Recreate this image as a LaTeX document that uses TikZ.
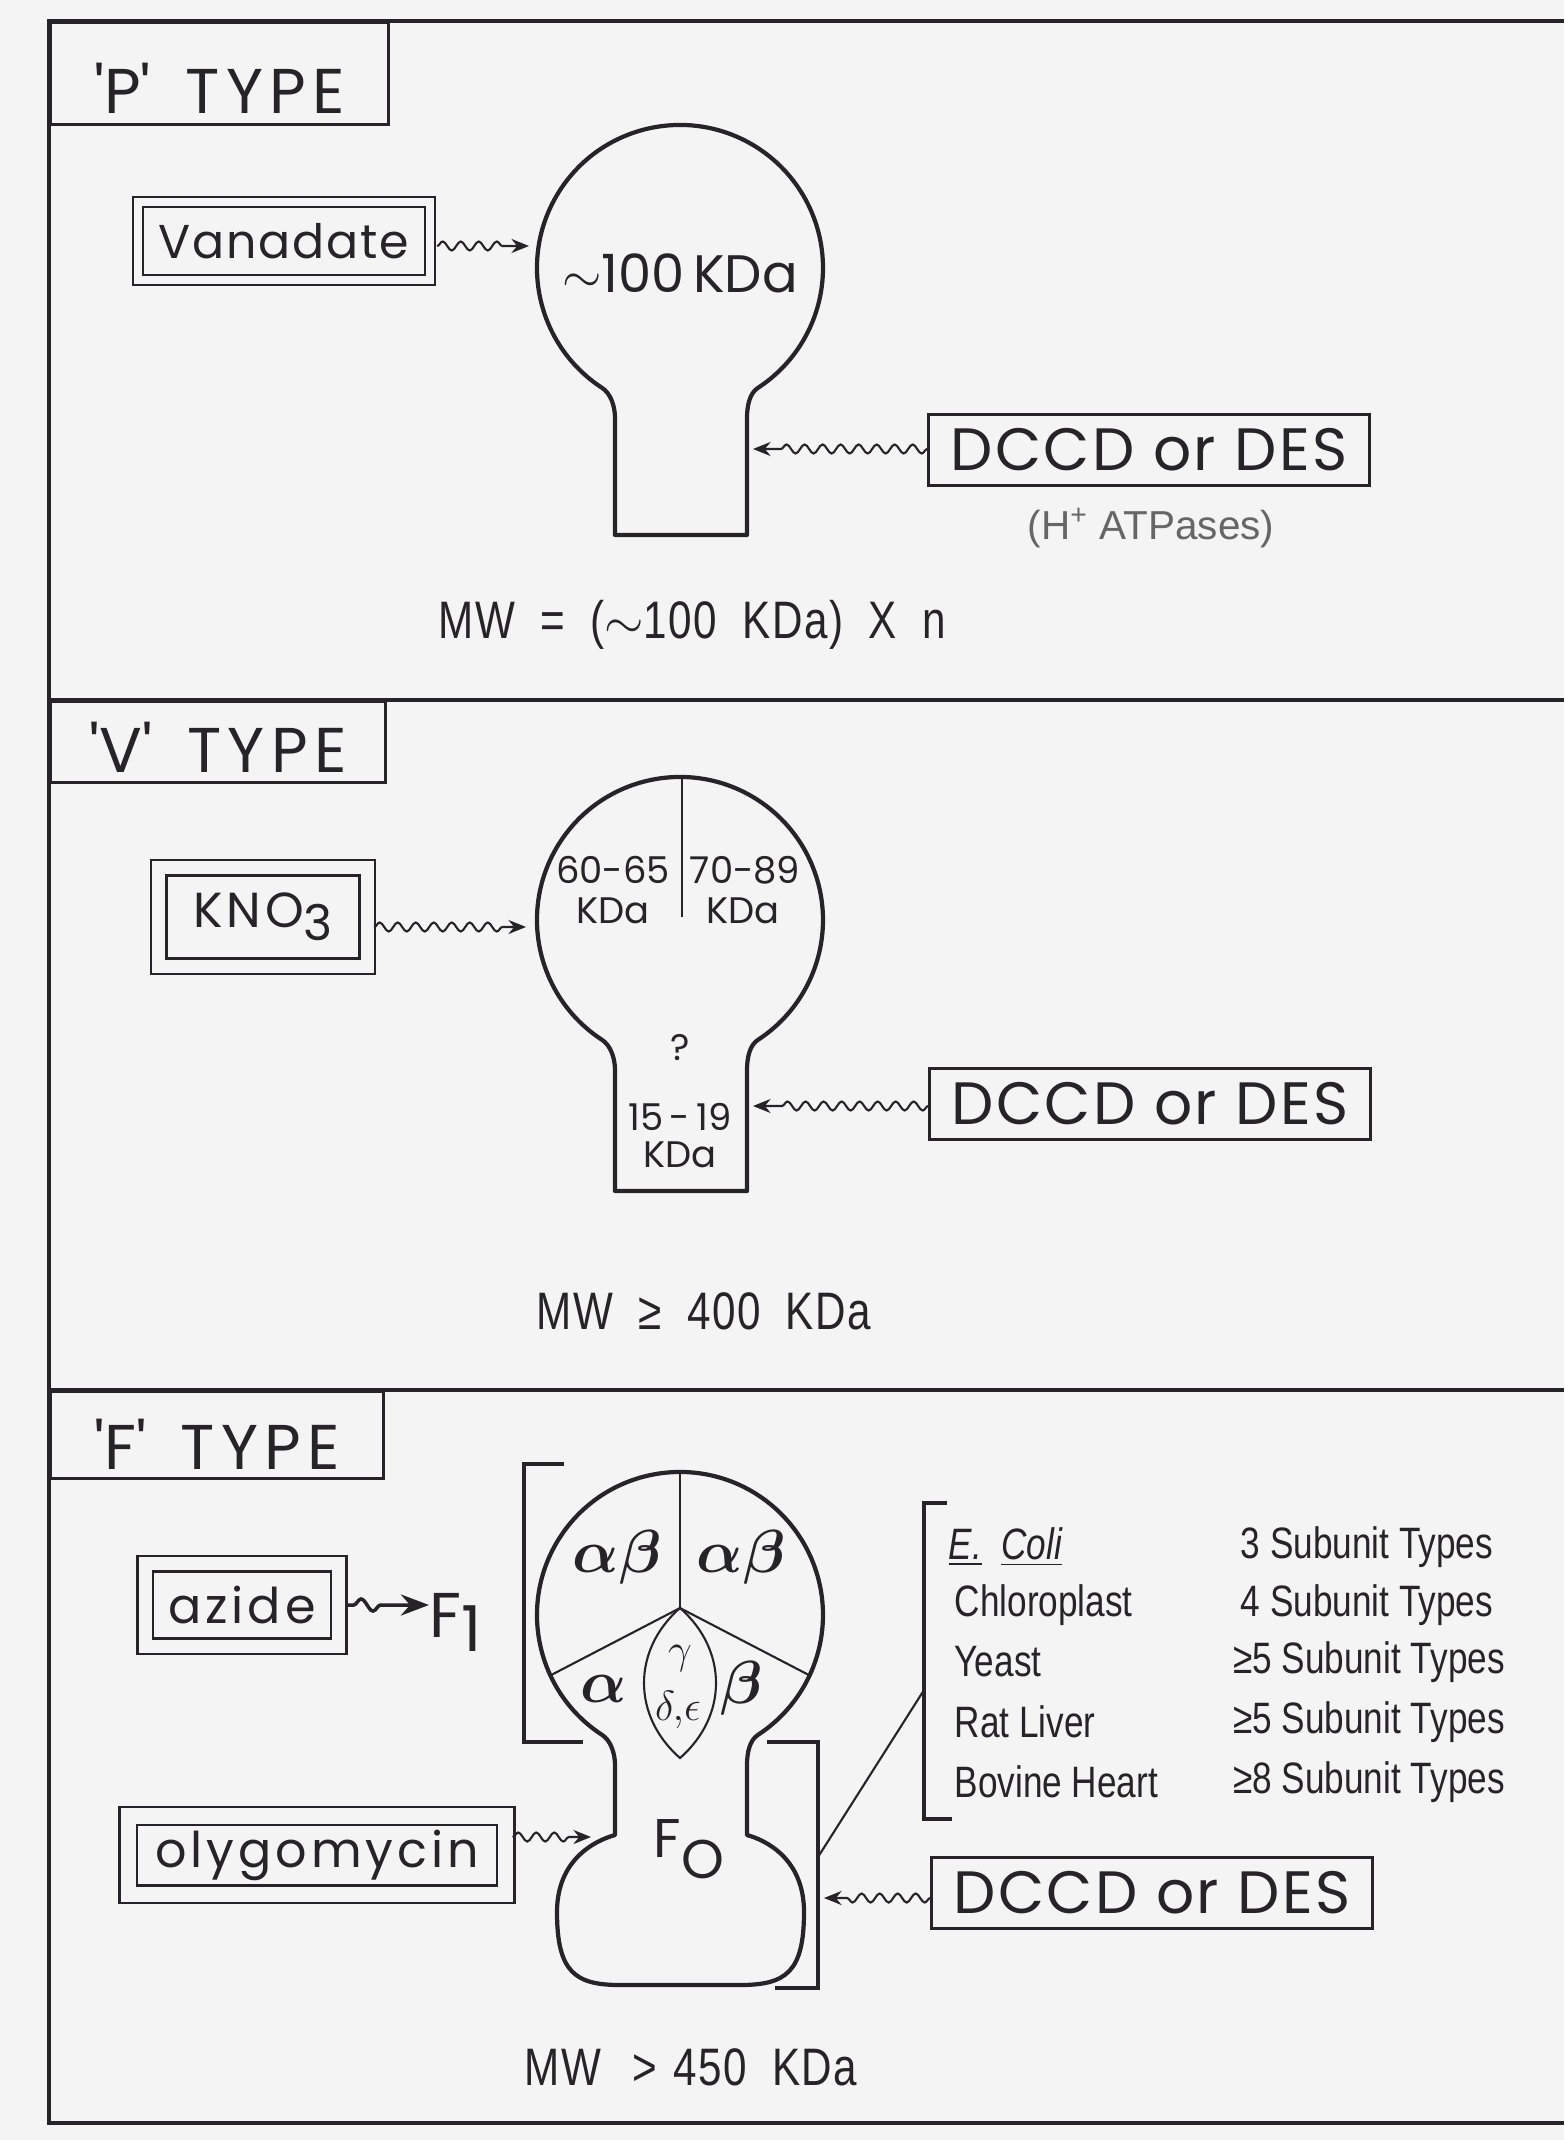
\documentclass[tikz,border=0pt]{standalone}
\usepackage{fontspec}
\setmainfont{Poppins}
\newfontfamily\typefont[LetterSpace=10,WordSpace=1.5]{Poppins}
\newfontfamily\narrowfont[FakeStretch=0.8]{Liberation Sans}
\newfontfamily\mwfont[FakeStretch=0.8,LetterSpace=3,WordSpace=1.9]{Liberation Sans}
\newfontfamily\helvfont{Liberation Sans}
\usetikzlibrary{positioning,decorations.pathmorphing,arrows.meta}
\definecolor{ink}{RGB}{38,36,40}
\definecolor{paper}{RGB}{244,244,245}

\begin{document}
\begin{tikzpicture}[
x=0.01cm,y=-0.01cm,
color=ink,
framing/.style={draw=ink,line width=0.9pt},
bulb/.style={draw=ink,line width=1.2pt,line join=round},
divider/.style={draw=ink,line width=0.6pt},
typebox/.style={draw=ink,line width=0.9pt,anchor=north west,inner ysep=0pt,font=\typefont\fontsize{18}{20}\selectfont},
dbox/.style={draw=ink,double=paper,line width=0.7pt,inner sep=0pt,outer sep=0.7mm,font=\fontsize{14}{16}\selectfont\addfontfeature{LetterSpace=8}},
sbox/.style={draw=ink,line width=0.9pt,minimum width=4.4cm,minimum height=0.71cm,inner sep=0pt,font=\fontsize{17}{19}\selectfont\addfontfeature{LetterSpace=4}},
wavy/.style={draw=ink,line width=0.6pt,-{Stealth[length=5pt,width=4pt]},decorate,decoration={snake,amplitude=0.45mm,segment length=1.8mm,post length=2.2mm}},
tildearrow/.style={draw=ink,line width=1pt,-{Stealth[length=8pt,width=6pt]},decorate,decoration={snake,amplitude=0.6mm,segment length=2.4mm,pre length=0.8mm,post length=4.5mm}},
mw/.style={inner sep=0pt,font=\mwfont\fontsize{15}{17}\selectfont},
kda/.style={inner sep=0pt,font=\fontsize{10.5}{12}\selectfont},
greek/.style={inner sep=0pt,font=\fontsize{18}{20}\selectfont\boldmath},
subunit/.style={inner sep=0pt,font=\narrowfont\fontsize{12.5}{14}\selectfont},
helv/.style={inner sep=0pt,text=gray!80!black,font=\helvfont\fontsize{11.5}{13}\selectfont}
]
\fill[paper] (0,0) rectangle (1564,2140);
\useasboundingbox (0,0) rectangle (1564,2140);

% frame
\draw[framing] (1564,21) -- (49,21) -- (49,2123) -- (1564,2123);
\draw[framing] (49,700) -- (1564,700);
\draw[framing] (49,1390) -- (1564,1390);

% P type
\node[typebox,text height=0.91cm,text depth=0.11cm,minimum width=3.38cm] (ptype) at (49,21) {\textquotesingle P\textquotesingle\ TYPE};
\node[dbox,double distance=0.75mm,minimum width=2.92cm,minimum height=0.78cm,font=\fontsize{13.5}{16}\selectfont\addfontfeature{LetterSpace=4}] (vanadate) at (284,241) {Vanadate};
\draw[bulb] (615,535) -- (615,418) .. controls (615,406) and (610.5,393.3) .. (602.1,387.9)
  arc[start angle=123,end angle=417,radius=143]
  .. controls (749.5,393.3) and (747,406) .. (747,418) -- (747,535) -- cycle;
\node[inner sep=0pt,font=\fontsize{15}{17}\selectfont] (pmass) at (680,273) {$\sim$100\,KDa};
\coordinate (phead) at (529,246);
\draw[wavy] (vanadate.east |- phead) -- (phead);
\node[sbox] (pdccd) at (1149,450) {DCCD or DES};
\coordinate (pstem) at (753,449);
\draw[wavy] (pdccd.west |- pstem) -- (pstem);
\node[helv] (hplus) at (1151,528) {(H\textsuperscript{+} ATPases)};
\node[mw] (pmw) at (692,625) {MW = ($\sim$100 KDa) X n};

% V type
\node[typebox,text height=0.71cm,text depth=0.10cm,minimum width=3.35cm] (vtype) at (49,700) {\textquotesingle V\textquotesingle\ TYPE};
\node[dbox,double distance=1.3mm,minimum width=2.08cm,minimum height=0.98cm] (kno) at (263,917) {KNO\raisebox{-0.5ex}{3}};
\draw[bulb] (615,1191) -- (615,1070) .. controls (615,1058) and (610.5,1045.3) .. (602.1,1039.9)
  arc[start angle=123,end angle=417,radius=143]
  .. controls (749.5,1045.3) and (747,1058) .. (747,1070) -- (747,1191) -- cycle;
\draw[divider] (682,777) -- (682,917);
\node[kda] (vleft) at (613,870) {60-65};
\node[kda] (vleftu) at (613,911) {KDa};
\node[kda] (vright) at (745,870) {70-89};
\node[kda] (vrightu) at (743,911) {KDa};
\node[kda] (vquery) at (680,1048) {?};
\node[kda] (vstemm) at (680,1117) {15\,-\,19};
\node[kda] (vstemu) at (680,1155) {KDa};
\coordinate (vhead) at (526,927);
\draw[wavy] (kno.east |- vhead) -- (vhead);
\node[sbox] (vdccd) at (1150,1104) {DCCD or DES};
\coordinate (vstem) at (753,1106);
\draw[wavy] (vdccd.west |- vstem) -- (vstem);
\node[mw] (vmw) at (704,1311) {MW ≥ 400 KDa};

% F type
\node[typebox,text height=0.78cm,text depth=0.09cm,minimum width=3.33cm] (ftype) at (49,1390) {\textquotesingle F\textquotesingle\ TYPE};
\node[dbox,double distance=1.3mm,minimum width=1.93cm,minimum height=0.82cm] (azide) at (242,1605) {azide};
\node[anchor=base west,inner sep=0pt,font=\fontsize{18}{20}\selectfont] (fone) at (429,1637) {F\raisebox{-4pt}{1}};
\draw[tildearrow] (azide.east) -- (azide.east -| fone.west);
\draw[bulb] (615,1835) -- (615,1765) .. controls (615,1753) and (610.5,1740.3) .. (602.1,1734.9)
  arc[start angle=123,end angle=417,radius=143]
  .. controls (749.5,1740.3) and (747,1753) .. (747,1765) -- (747,1835)
  .. controls (765,1840) and (804,1858) .. (804,1912)
  .. controls (804,1972) and (786,1985) .. (740,1985) -- (620,1985)
  .. controls (575,1985) and (557,1972) .. (557,1912)
  .. controls (557,1858) and (597,1840) .. (615,1835) -- cycle;
\coordinate (hub) at (680,1608);
\draw[divider] (680,1472) -- (hub);
\draw[divider] (hub) -- (550.4,1675.4);
\draw[divider] (hub) -- (809.6,1675.4);
\draw[divider] (hub) .. controls (632,1650) and (632,1716) .. (680,1758)
  .. controls (728,1716) and (728,1650) .. (hub);
\node[greek] (ableft) at (617,1557) {$\alpha\beta$};
\node[greek] (abright) at (741,1557) {$\alpha\beta$};
\node[greek] (alone) at (604,1689) {$\alpha$};
\node[greek] (blone) at (742,1688) {$\beta$};
\node[greek,font=\fontsize{12}{14}\selectfont] (gam) at (680,1658) {$\gamma$};
\node[greek,font=\fontsize{12}{14}\selectfont] (delt) at (678,1710) {$\delta,\!\epsilon$};
\node[anchor=base west,inner sep=0pt,font=\fontsize{15.5}{18}\selectfont] (fzerolbl) at (653,1857) {F\raisebox{-6pt}{O}};
\draw[framing] (564,1464) -- (524,1464) -- (524,1742) -- (583,1742);
\draw[framing] (767,1742) -- (818,1742) -- (818,1988) -- (775,1988);
\draw[framing] (947,1503) -- (924,1503) -- (924,1819) -- (952,1819);
\coordinate (fobrk) at (818,1857);
\coordinate (listbrk) at (924,1690);
\draw[divider] (fobrk) -- (listbrk);
\node[dbox,double distance=1.5mm,minimum width=3.77cm,minimum height=0.78cm] (oligo) at (317,1855) {olygomycin};
\coordinate (fzero) at (591,1837);
\draw[wavy] (oligo.east |- fzero) -- (fzero);
\node[sbox] (fdccd) at (1152,1893) {DCCD or DES};
\coordinate (fbrk) at (824,1898);
\draw[wavy] (fdccd.west |- fbrk) -- (fbrk);
\node[subunit,anchor=west] (ecoli) at (948,1547) {\itshape\underline{E.}\ \ \underline{Coli}};
\node[subunit] (ecolin) at (1367,1547) {3 Subunit Types};
\node[subunit,anchor=west] (chloro) at (954,1605) {Chloroplast};
\node[subunit] (chloron) at (1367,1605) {4 Subunit Types};
\node[subunit,anchor=west] (yeast) at (954,1662) {Yeast};
\node[subunit] (yeastn) at (1369,1662) {≥5 Subunit Types};
\node[subunit,anchor=west] (rat) at (954,1722) {Rat Liver};
\node[subunit] (ratn) at (1369,1722) {≥5 Subunit Types};
\node[subunit,anchor=west] (bovine) at (954,1782) {Bovine Heart};
\node[subunit] (bovinen) at (1369,1782) {≥8 Subunit Types};
\node[mw] (fmw) at (691,2067) {MW\hspace{0.6em}>\hspace{0.3em}450 KDa};
\end{tikzpicture}
\end{document}
